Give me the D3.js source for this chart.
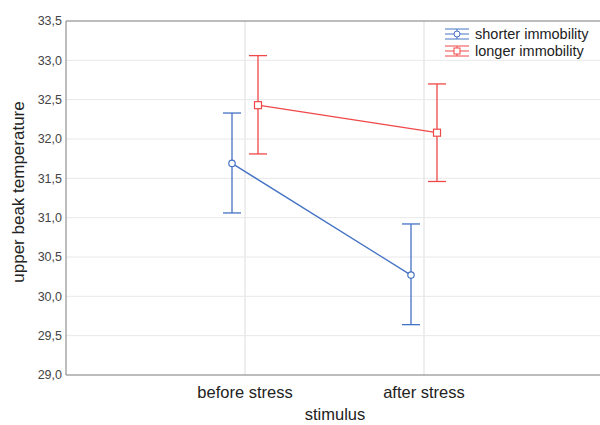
<!DOCTYPE html>
<html>
<head>
<meta charset="utf-8">
<script src="https://cdn.jsdelivr.net/npm/d3@7"></script>
<style>
  body { margin: 0; background: #fff; }
  text { font-family: Arial, "Liberation Sans", sans-serif; }
</style>
</head>
<body>
<div id="chart"></div>
<script>
const categories = ["before stress", "after stress"];
const seriesNames = ["shorter immobility", "longer immobility"];
const shorterMean = [31.69, 30.27];
const shorterLow = [31.06, 29.64];
const shorterHigh = [32.33, 30.92];
const longerMean = [32.43, 32.08];
const longerLow = [31.81, 31.46];
const longerHigh = [33.06, 32.70];
const yTicks = [29.0, 29.5, 30.0, 30.5, 31.0, 31.5, 32.0, 32.5, 33.0, 33.5];

const width = 600, height = 425;
const margin = { top: 21, right: -3, bottom: 50, left: 66 };
const colors = ["#4472c4", "#f04848"];
const offsets = [-13, 13];

const svg = d3.select("#chart").append("svg")
  .attr("width", width).attr("height", height);

const x = d3.scaleLinear().domain([0, 3]).range([margin.left, width - margin.right]);
const y = d3.scaleLinear().domain([29, 33.5]).range([height - margin.bottom, margin.top]);

// grid
svg.append("g").selectAll("line").data(yTicks.slice(1, -1)).enter().append("line")
  .attr("x1", margin.left).attr("x2", width)
  .attr("y1", d => y(d)).attr("y2", d => y(d))
  .attr("stroke", "#e8e8e8").attr("stroke-width", 1);
svg.append("g").selectAll("line").data(categories).enter().append("line")
  .attr("x1", (d, i) => x(i + 1)).attr("x2", (d, i) => x(i + 1))
  .attr("y1", y(33.5)).attr("y2", y(29))
  .attr("stroke", "#e8e8e8").attr("stroke-width", 1.5);

// frame
svg.append("line").attr("x1", margin.left).attr("x2", width)
  .attr("y1", y(33.5)).attr("y2", y(33.5)).attr("stroke", "#7a7a7a");
svg.append("line").attr("x1", margin.left).attr("x2", width)
  .attr("y1", y(29)).attr("y2", y(29)).attr("stroke", "#7a7a7a");
svg.append("line").attr("x1", margin.left).attr("x2", margin.left)
  .attr("y1", y(33.5)).attr("y2", y(29)).attr("stroke", "#7a7a7a");

// y tick labels
svg.append("g").selectAll("text").data(yTicks).enter().append("text")
  .attr("x", margin.left - 4).attr("y", d => y(d))
  .attr("dy", "0.35em").attr("text-anchor", "end")
  .style("font-size", "12.5px").style("fill", "#444")
  .text(d => d3.format(".1f")(d).replace(".", ","));

// x tick labels
svg.append("g").selectAll("text").data(categories).enter().append("text")
  .attr("x", (d, i) => x(i + 1)).attr("y", 398)
  .attr("text-anchor", "middle")
  .style("font-size", "16.5px").style("fill", "#222")
  .text(d => d);

// axis titles
svg.append("text").attr("x", 335).attr("y", 420).attr("text-anchor", "middle")
  .style("font-size", "16.5px").style("fill", "#222").text("stimulus");
svg.append("text")
  .attr("transform", "translate(24,192) rotate(-90)")
  .attr("text-anchor", "middle")
  .style("font-size", "17px").style("fill", "#222").text("upper beak temperature");

const series = [
  { mean: shorterMean, low: shorterLow, high: shorterHigh },
  { mean: longerMean, low: longerLow, high: longerHigh }
];

series.forEach(function (s, k) {
  const pts = categories.map((c, i) => ({
    px: x(i + 1) + offsets[k], mean: s.mean[i], low: s.low[i], high: s.high[i]
  }));
  const g = svg.append("g").attr("stroke", colors[k]).attr("fill", "none");

  g.append("path")
    .attr("d", d3.line().x(d => d.px).y(d => y(d.mean))(pts))
    .attr("stroke-width", 1.3);

  const bars = g.selectAll(".bar").data(pts).enter().append("g");
  bars.append("line")
    .attr("x1", d => d.px).attr("x2", d => d.px)
    .attr("y1", d => y(d.low)).attr("y2", d => y(d.high)).attr("stroke-width", 1.3);
  bars.append("line")
    .attr("x1", d => d.px - 9).attr("x2", d => d.px + 9)
    .attr("y1", d => y(d.high)).attr("y2", d => y(d.high)).attr("stroke-width", 1.3);
  bars.append("line")
    .attr("x1", d => d.px - 9).attr("x2", d => d.px + 9)
    .attr("y1", d => y(d.low)).attr("y2", d => y(d.low)).attr("stroke-width", 1.3);

  if (k === 0) {
    bars.append("circle").attr("cx", d => d.px).attr("cy", d => y(d.mean))
      .attr("r", 3.2).attr("fill", "#fff").attr("stroke-width", 1.2);
  } else {
    bars.append("rect").attr("x", d => d.px - 3.5).attr("y", d => y(d.mean) - 3.5)
      .attr("width", 7).attr("height", 7).attr("fill", "#fff").attr("stroke-width", 1.2);
  }
});

// legend
const legend = svg.append("g").attr("transform", "translate(445,34)");
const items = legend.selectAll("g").data(seriesNames).enter().append("g")
  .attr("transform", (d, i) => "translate(0," + i * 17 + ")");
items.each(function (d, i) {
  const gi = d3.select(this).append("g").attr("stroke", colors[i]).attr("fill", "none");
  gi.append("line").attr("x1", 0).attr("x2", 24).attr("y1", -5).attr("y2", -5);
  gi.append("line").attr("x1", 0).attr("x2", 24).attr("y1", 0).attr("y2", 0);
  gi.append("line").attr("x1", 0).attr("x2", 24).attr("y1", 5).attr("y2", 5);
  gi.append("line").attr("x1", 12).attr("x2", 12).attr("y1", -5).attr("y2", 5);
  if (i === 0) gi.append("circle").attr("cx", 12).attr("cy", 0).attr("r", 3).attr("fill", "#fff");
  else gi.append("rect").attr("x", 9).attr("y", -3).attr("width", 6).attr("height", 6).attr("fill", "#fff");
});
items.append("text").attr("x", 30).attr("y", 0).attr("dy", "0.35em")
  .style("font-size", "14.5px").style("fill", "#222").text(d => d);
</script>
</body>
</html>
